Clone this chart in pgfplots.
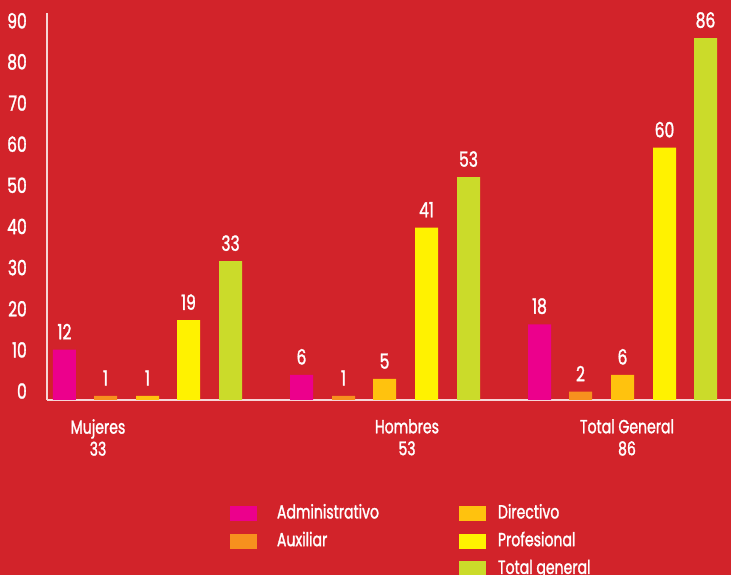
\documentclass[border=0pt]{standalone}
\usepackage{fontspec}
\setmainfont{Poppins}[FakeStretch=0.74, FakeBold=1.4]
\usepackage{pgfplots}
\pgfplotsset{compat=1.18}
\definecolor{bg}{HTML}{D2232A}
\definecolor{cadm}{HTML}{EC008C}
\definecolor{caux}{HTML}{F7901E}
\definecolor{cdir}{HTML}{FFC20E}
\definecolor{cpro}{HTML}{FFF200}
\definecolor{ctot}{HTML}{CBDB2A}
\definecolor{axl}{HTML}{F6D6D6}
\begin{document}
\begin{tikzpicture}
\fill[bg] (0,0) rectangle (731pt,575pt);
\useasboundingbox (0,0) rectangle (731pt,575pt);
\begin{axis}[
  at={(47pt,175pt)}, anchor=south west,
  scale only axis, width=684pt, height=387pt,
  xmin=47, xmax=731, ymin=0, ymax=92,
  clip=false,
  axis x line=bottom, axis y line=left,
  axis line style={-, draw=axl, line width=1.4pt},
  major tick length=0pt, tick style={draw=none},
  ytick={2.14,11.92,21.70,31.48,41.26,51.04,60.82,70.60,80.38,90.16},
  yticklabels={0,10,20,30,40,50,60,70,80,90},
  yticklabel style={anchor=east, inner sep=0pt, xshift=-20pt, text=white, font=\fontsize{21}{24}\selectfont},
  xtick={98,407,627},
  xticklabels={{Mujeres\\33},{Hombres\\53},{Total General\\86}},
  xticklabel style={align=center, anchor=north, inner sep=0pt, yshift=-19pt, text=white, font=\fontsize{19}{22}\selectfont},
  ybar, bar width=23, bar shift=0pt,
  /pgf/number format/assume math mode=true,
  nodes near coords,
  every node near coord/.append style={anchor=south, inner sep=0pt, yshift=10pt, text=white, font=\fontsize{21}{24}\selectfont},
  legend columns=2,
  legend cell align=left,
  legend image code/.code={\fill[#1] (0pt,-7.5pt) rectangle (27pt,7.5pt); \path (39pt,0pt);},
  legend style={draw=none, fill=none, at={(0.2675,-0.270)}, anchor=north west,
    inner sep=0pt, outer sep=0pt, column sep=0pt, row sep=9.7pt,
    font=\fontsize{19}{22}\selectfont, text=white,
    nodes={inner sep=0pt, text height=14pt, text depth=4pt}},
]
\addlegendimage{fill=cadm, draw=none}
\addlegendentry{\makebox[190pt][l]{\hspace{8pt}Administrativo}}
\addlegendimage{fill=cdir, draw=none}
\addlegendentry{Directivo}
\addlegendimage{fill=caux, draw=none}
\addlegendentry{\makebox[190pt][l]{\hspace{8pt}Auxiliar}}
\addlegendimage{fill=cpro, draw=none}
\addlegendentry{Profesional}
\addlegendimage{empty legend}
\addlegendentry{\makebox[190pt][l]{}}
\addlegendimage{fill=ctot, draw=none}
\addlegendentry{Total general}

\addplot[fill=cadm, draw=none, forget plot] coordinates {(64.5,12) (301.5,6) (539.5,18)};
\addplot[fill=caux, draw=none, forget plot] coordinates {(105.5,1) (343.5,1) (580.5,2)};
\addplot[fill=cdir, draw=none, forget plot] coordinates {(147.5,1) (384.5,5) (622.5,6)};
\addplot[fill=cpro, draw=none, forget plot] coordinates {(188.5,19) (426.5,41) (664.5,60)};
\addplot[fill=ctot, draw=none, forget plot] coordinates {(230.5,33) (468.5,53) (705.5,86)};
\end{axis}
\end{tikzpicture}
\end{document}
